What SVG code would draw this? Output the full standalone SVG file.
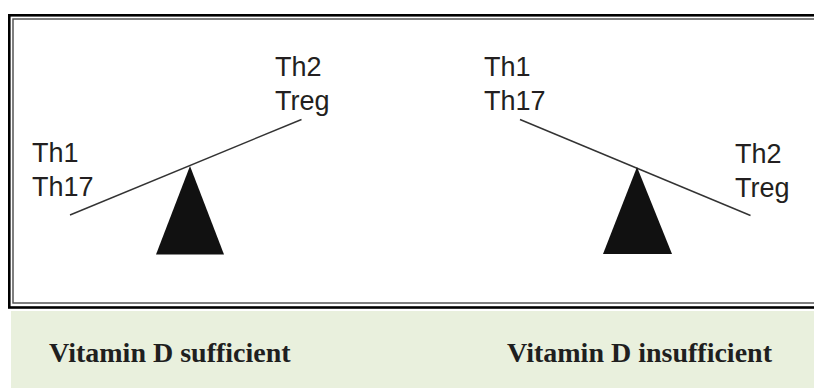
<svg xmlns="http://www.w3.org/2000/svg" width="814" height="388" viewBox="0 0 814 388">
  <style>
    .lbl { font-family: "Liberation Sans", Arial, sans-serif; font-size: 27px; fill: #231f20; }
    .cap { font-family: "Liberation Serif", "Times New Roman", serif; font-size: 28px; font-weight: bold; fill: #1f1f1f; }
    .beam { stroke: #333; stroke-width: 1.4; fill: none; }
    .fulcrum { fill: #111; }
  </style>
  <rect x="0" y="0" width="814" height="388" fill="#ffffff"/>
  <g id="frame">
    <rect x="9.3" y="15.3" width="830" height="292.2" fill="none" stroke="#000" stroke-width="2.6"/>
    <rect x="13" y="19" width="830" height="284" fill="none" stroke="#555" stroke-width="1.5"/>
  </g>
  <g id="caption-band">
    <rect x="11" y="311" width="803" height="77" fill="#e9f0dd"/>
  </g>
  <g id="sufficient">
    <line class="beam" x1="70" y1="215" x2="301.5" y2="119.5"/>
    <polygon class="fulcrum" points="190,166 156,254.5 224,254.5"/>
    <text class="lbl" x="32" y="162">Th1</text>
    <text class="lbl" x="32" y="196">Th17</text>
    <text class="lbl" x="275" y="76">Th2</text>
    <text class="lbl" x="275" y="110">Treg</text>
    <text class="cap" x="49" y="362">Vitamin D sufficient</text>
  </g>
  <g id="insufficient">
    <line class="beam" x1="520" y1="119.5" x2="750.5" y2="215.5"/>
    <polygon class="fulcrum" points="637,167 603,254 672,254"/>
    <text class="lbl" x="484" y="76">Th1</text>
    <text class="lbl" x="484" y="110">Th17</text>
    <text class="lbl" x="735" y="163">Th2</text>
    <text class="lbl" x="735" y="197">Treg</text>
    <text class="cap" x="507" y="362">Vitamin D insufficient</text>
  </g>
  <g id="connectors"></g>
</svg>
